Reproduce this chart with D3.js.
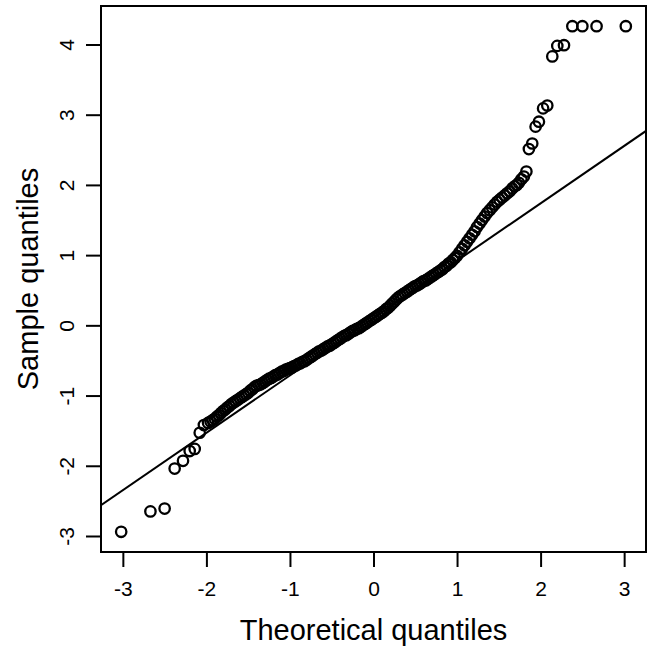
<!DOCTYPE html>
<html>
<head>
<meta charset="utf-8">
<style>
  body { margin: 0; background: #fff; }
  svg { display: block; font-family: "Liberation Sans", Arial, sans-serif; }
</style>
</head>
<body>
<svg width="654" height="653"></svg>
<script src="https://d3js.org/d3.v7.min.js"></script>
<script>

// theoretical quantiles (x) and sample quantiles (y)
var theoretical = [
  -3.02, -2.67, -2.50, -2.38, -2.28, -2.20, -2.14, -2.08, -2.03, -1.98,
  -1.950, -1.925, -1.900, -1.875, -1.850, -1.825, -1.800, -1.775, -1.750, -1.725,
  -1.700, -1.675, -1.650, -1.625, -1.600, -1.575, -1.550, -1.525, -1.500, -1.475,
  -1.450, -1.425, -1.400, -1.375, -1.350, -1.325, -1.300, -1.275, -1.250, -1.225,
  -1.200, -1.175, -1.150, -1.125, -1.100, -1.075, -1.050, -1.025, -1.000, -0.975,
  -0.950, -0.925, -0.900, -0.875, -0.850, -0.825, -0.800, -0.775, -0.750, -0.725,
  -0.700, -0.675, -0.650, -0.625, -0.600, -0.575, -0.550, -0.525, -0.500, -0.475,
  -0.450, -0.425, -0.400, -0.375, -0.350, -0.325, -0.300, -0.275, -0.250, -0.225,
  -0.200, -0.175, -0.150, -0.125, -0.100, -0.075, -0.050, -0.025, 0.000, 0.025,
  0.050, 0.075, 0.100, 0.125, 0.150, 0.175, 0.200, 0.225, 0.250, 0.275,
  0.300, 0.325, 0.350, 0.375, 0.400, 0.425, 0.450, 0.475, 0.500, 0.525,
  0.550, 0.575, 0.600, 0.625, 0.650, 0.675, 0.700, 0.725, 0.750, 0.775,
  0.800, 0.825, 0.850, 0.875, 0.900, 0.925, 0.950, 0.975, 1.000, 1.030,
  1.060, 1.090, 1.120, 1.150, 1.180, 1.210, 1.240, 1.270, 1.300, 1.330,
  1.360, 1.390, 1.420, 1.450, 1.480, 1.510, 1.540, 1.570, 1.600, 1.630,
  1.660, 1.690, 1.715, 1.740, 1.77,
  1.80, 1.83, 1.86, 1.90, 1.94, 1.98, 2.03, 2.08, 2.14, 2.20,
  2.28, 2.38, 2.50, 2.67, 3.02
];

var sample = [
  -2.94, -2.65, -2.61, -2.04, -1.93, -1.79, -1.76, -1.53, -1.42, -1.39,
  -1.37, -1.35, -1.33, -1.30, -1.28, -1.25, -1.22, -1.20, -1.17, -1.15,
  -1.12, -1.10, -1.08, -1.06, -1.04, -1.02, -1.00, -0.98, -0.96, -0.93,
  -0.91, -0.88, -0.86, -0.85, -0.84, -0.82, -0.80, -0.78, -0.76, -0.75,
  -0.73, -0.71, -0.70, -0.68, -0.66, -0.65, -0.63, -0.62, -0.61, -0.60,
  -0.58, -0.57, -0.55, -0.54, -0.52, -0.51, -0.49, -0.47, -0.45, -0.43,
  -0.41, -0.39, -0.37, -0.36, -0.34, -0.32, -0.30, -0.29, -0.27, -0.25,
  -0.23, -0.21, -0.19, -0.17, -0.15, -0.14, -0.12, -0.10, -0.08, -0.07,
  -0.05, -0.04, -0.02, 0.00, 0.02, 0.04, 0.06, 0.08, 0.10, 0.12,
  0.14, 0.16, 0.18, 0.20, 0.23, 0.25, 0.28, 0.31, 0.34, 0.37,
  0.40, 0.42, 0.44, 0.46, 0.48, 0.50, 0.52, 0.54, 0.56, 0.57,
  0.59, 0.61, 0.63, 0.64, 0.66, 0.68, 0.70, 0.72, 0.74, 0.76,
  0.78, 0.80, 0.83, 0.85, 0.88, 0.90, 0.93, 0.96, 0.99, 1.04,
  1.09, 1.14, 1.19, 1.24, 1.29, 1.34, 1.40, 1.45, 1.50, 1.55,
  1.60, 1.64, 1.68, 1.72, 1.76, 1.79, 1.82, 1.85, 1.88, 1.91,
  1.95, 1.98, 2.00, 2.03, 2.08,
  2.12, 2.19, 2.51, 2.59, 2.83, 2.90, 3.09, 3.13, 3.83, 3.98,
  3.99, 4.26, 4.26, 4.26, 4.26
];

var xTicks = [-3, -2, -1, 0, 1, 2, 3];
var yTicks = [-3, -2, -1, 0, 1, 2, 3, 4];

// reference line through the quartiles
var lineIntercept = 0.104,
    lineSlope = 0.817;

(function() {

var svg = d3.select("svg");

var left = 101, right = 646, top = 6, bottom = 552;

function padded(ext) {
  var d = (ext[1] - ext[0]) * 0.04;
  return [ext[0] - d, ext[1] + d];
}

var x = d3.scaleLinear()
    .domain(padded(d3.extent(theoretical)))
    .range([left, right]);

var y = d3.scaleLinear()
    .domain(padded(d3.extent(sample)))
    .range([bottom, top]);

svg.append("clipPath")
    .attr("id", "plot")
  .append("rect")
    .attr("x", left)
    .attr("y", top)
    .attr("width", right - left)
    .attr("height", bottom - top);

// points
svg.append("g")
  .selectAll("circle")
  .data(theoretical.map(function(d, i) { return [d, sample[i]]; }))
  .enter().append("circle")
    .attr("cx", function(d) { return x(d[0]); })
    .attr("cy", function(d) { return y(d[1]); })
    .attr("r", 5.2)
    .attr("fill", "none")
    .attr("stroke", "#000")
    .attr("stroke-width", 2.3);

// qq line
var xd = x.domain();
svg.append("line")
    .attr("clip-path", "url(#plot)")
    .attr("x1", x(xd[0]))
    .attr("y1", y(lineIntercept + lineSlope * xd[0]))
    .attr("x2", x(xd[1]))
    .attr("y2", y(lineIntercept + lineSlope * xd[1]))
    .attr("stroke", "#000")
    .attr("stroke-width", 2);

// box
svg.append("rect")
    .attr("x", left)
    .attr("y", top)
    .attr("width", right - left)
    .attr("height", bottom - top)
    .attr("fill", "none")
    .attr("stroke", "#000")
    .attr("stroke-width", 2);

// axes
var fmt = function(d) { return String(d); };

var xAxis = svg.append("g")
    .attr("transform", "translate(0," + bottom + ")")
    .call(d3.axisBottom(x).tickValues(xTicks).tickSize(15).tickPadding(14)
      .tickFormat(fmt));

var yAxis = svg.append("g")
    .attr("transform", "translate(" + left + ",0)")
    .call(d3.axisLeft(y).tickValues(yTicks).tickSize(15).tickFormat(fmt));

[xAxis, yAxis].forEach(function(a) {
  a.select(".domain").remove();
  a.selectAll(".tick line").attr("stroke", "#000").attr("stroke-width", 2);
  a.selectAll(".tick text")
    .attr("font-size", 21)
    .attr("font-family", "Liberation Sans, Arial, sans-serif")
    .attr("fill", "#000");
});

yAxis.selectAll(".tick text")
    .attr("x", null)
    .attr("dy", null)
    .attr("text-anchor", "middle")
    .attr("transform", "translate(-34,0) rotate(-90)")
    .attr("y", 7);

svg.append("text")
    .attr("x", (left + right) / 2)
    .attr("y", 640)
    .attr("text-anchor", "middle")
    .attr("font-size", 29)
    .text("Theoretical quantiles");

svg.append("text")
    .attr("transform", "translate(38," + ((top + bottom) / 2) + ") rotate(-90)")
    .attr("text-anchor", "middle")
    .attr("font-size", 29)
    .text("Sample quantiles");

})();

</script>
</body>
</html>
